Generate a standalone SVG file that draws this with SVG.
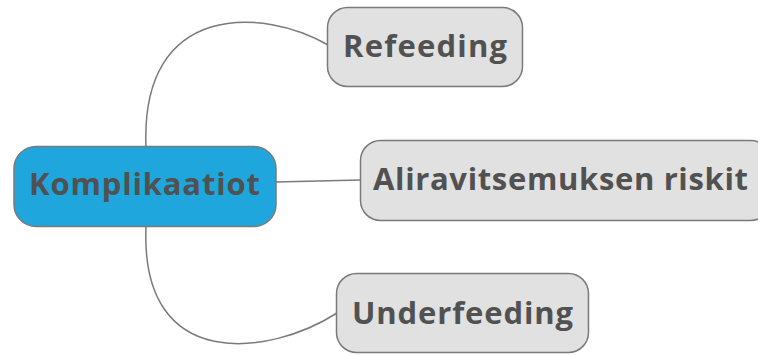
<svg xmlns="http://www.w3.org/2000/svg" width="758" height="355" viewBox="0 0 758 355">
  <style>
    .node rect { stroke: #7a7a7a; stroke-width: 1.5; }
    .root rect { fill: #1fa7dd; }
    .topic rect { fill: #e1e1e1; }
    .node text { font-family: "Open Sans", "Noto Sans", sans-serif; font-weight: bold; font-size: 31px; fill: #515151; text-anchor: middle; }
    .links path { fill: none; stroke: #7a7a7a; stroke-width: 1.5; }
  </style>
  <rect width="758" height="355" fill="#ffffff"/>
  <g class="links">
    <path d="M146,147 C140,0 265,8 328,45"/>
    <path d="M276,182 L360,180"/>
    <path d="M146,227 C140,374 270,356 337,313"/>
  </g>
  <g id="root" class="node root">
    <rect x="14" y="146.5" width="262" height="80" rx="22"/>
    <text x="144.5" y="195" textLength="231" lengthAdjust="spacing">Komplikaatiot</text>
  </g>
  <g id="refeeding" class="node topic">
    <rect x="327.5" y="7.5" width="195" height="79" rx="20"/>
    <text x="425" y="57" textLength="164" lengthAdjust="spacing">Refeeding</text>
  </g>
  <g id="aliravitsemus" class="node topic">
    <rect x="360.5" y="140.5" width="410" height="80" rx="20"/>
    <text x="560.5" y="190" textLength="375" lengthAdjust="spacing">Aliravitsemuksen riskit</text>
  </g>
  <g id="underfeeding" class="node topic">
    <rect x="336.5" y="273.5" width="252" height="79" rx="20"/>
    <text x="462.5" y="324" textLength="221" lengthAdjust="spacing">Underfeeding</text>
  </g>
</svg>
